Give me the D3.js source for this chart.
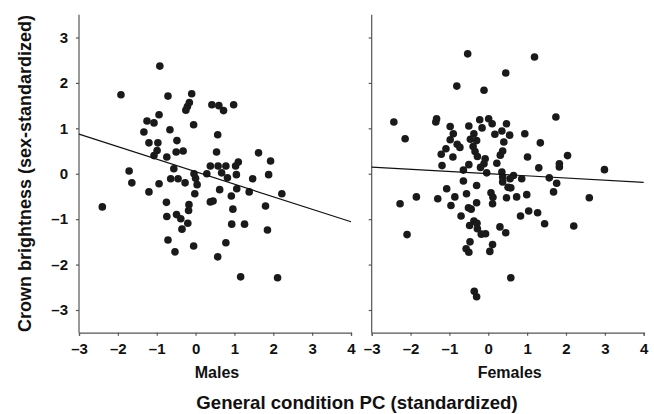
<!DOCTYPE html>
<html>
<head>
<meta charset="utf-8">
<script src="https://cdn.jsdelivr.net/npm/d3@7"></script>
<style>
  html, body { margin: 0; padding: 0; background: #fff; }
  svg { display: block; }
  text { font-family: "Liberation Sans", Arial, Helvetica, sans-serif; font-weight: bold; fill: #111; }
</style>
</head>
<body>
<svg id="chart" width="654" height="414"></svg>
<script>
// ---- data ----
const xTickValues = [-3, -2, -1, 0, 1, 2, 3, 4];
const xTickLabels = ["–3", "–2", "–1", "0", "1", "2", "3", "4"];
const yTickValues = [-3, -2, -1, 0, 1, 2, 3];
const yTickLabels = ["–3", "–2", "–1", "0", "1", "2", "3"];
const panelNames = ["Males", "Females"];

const malesX = [-1.92,-0.92,-0.71,-0.10,-0.16,-0.21,-0.25,0.42,0.60,0.72,0.98,-1.25,-1.07,-0.94,-1.33,-0.66,-0.05,0.57,-1.20,-0.97,
  -0.48,-0.99,-1.07,-0.50,-0.32,-0.74,0.54,1.62,1.93,-1.71,-0.56,0.38,0.58,0.78,1.03,1.10,-1.64,-0.94,-0.64,-0.45,
  -0.27,-0.04,0.00,0.04,0.29,0.67,0.82,1.05,1.47,1.88,-1.20,-0.02,0.62,0.92,1.06,1.38,2.22,-2.40,-0.75,0.38,
  0.45,-0.74,-0.49,-0.38,-0.17,-0.18,-0.20,-0.35,0.96,1.80,0.93,1.26,1.85,-0.71,0.78,-0.05,-0.53,0.57,1.16,2.11];
const malesY = [1.74,2.37,1.71,1.76,1.57,1.48,1.40,1.52,1.50,1.39,1.52,1.16,1.12,1.30,0.92,0.97,1.08,0.86,0.68,0.68,
  0.73,0.51,0.40,0.48,0.50,0.37,0.48,0.46,0.28,0.06,0.11,0.17,0.17,0.17,0.17,0.26,-0.20,-0.22,-0.11,-0.11,
  -0.20,0.00,-0.10,-0.24,0.00,0.02,-0.09,-0.02,-0.11,-0.02,-0.40,-0.44,-0.35,-0.49,-0.33,-0.40,-0.44,-0.73,-0.63,-0.62,
  -0.60,-0.94,-0.90,-0.99,-0.68,-0.81,-1.09,-1.22,-0.78,-0.71,-1.11,-1.11,-1.24,-1.46,-1.52,-1.59,-1.72,-1.83,-2.27,-2.29];

const femalesX = [-0.53,1.19,0.45,-0.81,-0.11,-2.43,-2.14,-1.33,-1.35,-0.98,-0.50,-0.22,0.01,0.10,-0.16,0.47,0.35,0.55,1.74,-0.90,
  -0.37,0.17,0.94,-0.98,-0.46,-0.30,-0.39,-0.34,-0.28,0.40,1.34,-1.09,-0.80,-0.73,-1.21,-0.91,0.37,0.31,1.01,2.04,
  -0.08,-0.11,-0.20,-0.50,-1.19,0.22,1.30,1.83,1.83,2.99,-0.64,-0.04,0.35,0.37,0.65,0.56,0.86,1.57,1.76,-0.64,
  0.37,-0.30,-1.07,0.51,0.58,1.68,-1.85,-1.30,-0.86,-0.56,0.07,0.12,0.47,0.73,0.99,2.60,-2.27,-0.96,-0.30,-0.51,
  -0.44,0.11,-0.70,0.83,1.04,1.27,-2.09,-0.37,-0.29,-0.48,-0.28,-0.18,-0.07,0.30,0.45,1.45,2.20,-0.47,-0.57,-0.50,
  0.11,0.04,0.58,-0.36,-0.30];
const femalesY = [2.64,2.57,2.22,1.93,1.84,1.14,0.77,1.21,1.14,1.04,1.05,1.19,1.21,1.10,1.01,1.10,0.94,0.85,1.25,0.88,
  0.88,0.87,0.88,0.75,0.76,0.73,0.60,0.49,0.38,0.70,0.68,0.55,0.65,0.58,0.43,0.37,0.50,0.41,0.37,0.40,
  0.33,0.22,0.14,0.20,0.18,0.23,0.13,0.22,0.15,0.09,0.08,0.02,0.04,-0.07,-0.04,-0.11,-0.11,-0.09,-0.21,-0.16,
  -0.18,-0.26,-0.33,-0.30,-0.31,-0.40,-0.51,-0.55,-0.51,-0.44,-0.42,-0.52,-0.53,-0.51,-0.46,-0.53,-0.66,-0.70,-0.64,-0.75,
  -0.78,-0.66,-0.93,-0.93,-0.82,-0.86,-1.34,-1.04,-1.09,-1.14,-1.21,-1.33,-1.32,-1.17,-1.30,-1.10,-1.15,-1.50,-1.65,-1.73,
  -1.56,-1.71,-2.29,-2.59,-2.71];

// fitted regression lines: y = intercept + slope * x
const fitIntercepts = [0.045, 0.002];
const fitSlopes = [-0.276, -0.048];

// ---- layout ----
const svg = d3.select("#chart");
const yRange = [332.7, 14.8];
const panelRanges = [[79, 351], [371.7, 643.7]];
const y = d3.scaleLinear().domain([-3.5, 3.5]).range(yRange);
const axisColor = "#555";

const panels = [
  {xs: malesX, ys: malesY},
  {xs: femalesX, ys: femalesY}
];

panels.forEach((p, i) => {
  const x = d3.scaleLinear().domain([-3, 4]).range(panelRanges[i]);
  const g = svg.append("g");

  // y axis
  const yAxis = d3.axisLeft(y).tickValues(yTickValues).tickSize(3).tickPadding(8)
    .tickFormat((d, k) => i === 0 ? yTickLabels[k] : "");
  const ya = g.append("g").attr("transform", `translate(${panelRanges[i][0]},0)`).call(yAxis);
  ya.select(".domain").attr("d", `M0,${yRange[0]}V${yRange[1]}`);

  // x axis
  const xAxis = d3.axisBottom(x).tickValues(xTickValues).tickSize(3).tickPadding(8)
    .tickFormat((d, k) => xTickLabels[k]);
  const xa = g.append("g").attr("transform", `translate(0,${yRange[0]})`).call(xAxis);

  [ya, xa].forEach(a => {
    a.select(".domain").attr("stroke", axisColor).attr("stroke-width", 1.2);
    a.selectAll(".tick line").attr("stroke", axisColor).attr("stroke-width", 1.2);
    a.selectAll(".tick text").attr("font-size", 15).attr("font-weight", "bold")
      .attr("font-family", "'Liberation Sans', Arial, sans-serif").attr("fill", "#111");
  });

  // points
  g.append("g").selectAll("circle").data(p.xs.map((v, k) => [v, p.ys[k]])).join("circle")
    .attr("cx", d => x(d[0])).attr("cy", d => y(d[1])).attr("r", 3.8).attr("fill", "#1a1a1a");

  // regression line
  const x0 = -3, x1 = 4;
  g.append("line")
    .attr("x1", x(x0)).attr("y1", y(fitIntercepts[i] + fitSlopes[i] * x0))
    .attr("x2", x(x1)).attr("y2", y(fitIntercepts[i] + fitSlopes[i] * x1))
    .attr("stroke", "#111").attr("stroke-width", 1.1);

  // panel label
  g.append("text").attr("x", (panelRanges[i][0] + panelRanges[i][1]) / 2 + 2).attr("y", 378)
    .attr("text-anchor", "middle").attr("font-size", 16).text(panelNames[i]);
});

svg.append("text").attr("x", 357).attr("y", 409).attr("text-anchor", "middle")
  .attr("font-size", 18.6).text("General condition PC (standardized)");

svg.append("text").attr("transform", "translate(31,173.5) rotate(-90)")
  .attr("text-anchor", "middle").attr("font-size", 18).text("Crown brightness (sex-standardized)");
</script>
</body>
</html>
